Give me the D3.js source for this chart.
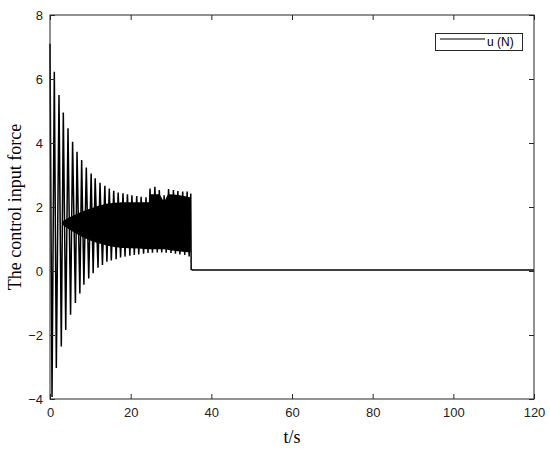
<!DOCTYPE html>
<html><head><meta charset="utf-8">
<script src="https://cdn.jsdelivr.net/npm/d3@7"></script>
<style>body{margin:0;background:#fff}svg{display:block}</style>
</head><body><svg id="c" width="550" height="449"></svg>
<script>
// Oscillation extremes
const peakT = [0,1.07,2.23,3.3,4.46,5.6,6.7,7.85,9.0,10.2,11.2,12.4,13.6,14.7,15.8,16.9,18.1,19.2,20.3,21.5,22.6,23.8,24.8,26.0,27.1,28.3,29.4,30.6,31.7,32.9,34.0,34.9];
const peakU = [7.1,6.23,5.5,4.95,4.46,4.04,3.73,3.47,3.23,3.05,2.9,2.76,2.66,2.58,2.51,2.45,2.43,2.4,2.37,2.34,2.32,2.3,2.58,2.63,2.53,2.37,2.56,2.53,2.5,2.48,2.48,2.42];
const troughT = [0.5,1.57,2.8,3.9,5.1,6.3,7.4,8.4,9.6,10.7,11.9,13.0,14.1,15.2,16.4,17.5,18.6,19.8,20.9,22.0,23.2,24.3,25.4,26.6,27.7,28.8,30.0,31.1,32.2,33.4,34.5];
const troughU = [-3.94,-3.03,-2.36,-1.84,-1.37,-1.0,-0.7,-0.43,-0.23,-0.07,0.1,0.19,0.29,0.33,0.37,0.42,0.45,0.48,0.5,0.52,0.54,0.56,0.57,0.58,0.58,0.57,0.56,0.54,0.52,0.5,0.45];
// Settled part after the switch
const tailT = [35.0, 35.4, 60, 90, 120];
const tailU = [0.05, 0.03, 0.03, 0.03, 0.03];
// Dense chattering core (solid black band)
const coreT  = [3, 6, 10, 14, 18, 22, 24.5, 24.8, 27.0, 28.3, 29.4, 34.9];
const coreHi = [1.55, 1.75, 1.95, 2.1, 2.15, 2.15, 2.15, 2.4, 2.4, 2.2, 2.4, 2.3];
const coreLo = [1.45, 1.2, 0.95, 0.8, 0.72, 0.7, 0.68, 0.68, 0.68, 0.68, 0.66, 0.58];
const xTicks = [0,20,40,60,80,100,120];
const yTicks = [-4,-2,0,2,4,6,8];
const legendLabel = "u (N)";
const xLabel = "t/s";
const yLabel = "The control input force";

const svg = d3.select("#c");
const L=50, R=534, T=15, B=399;
const x = d3.scaleLinear().domain([0,120]).range([L,R]);
const y = d3.scaleLinear().domain([-4,8]).range([B,T]);

// merge extremes
let pts = [];
peakT.forEach((t,i)=>pts.push([t,peakU[i]]));
troughT.forEach((t,i)=>pts.push([t,troughU[i]]));
pts.sort((a,b)=>a[0]-b[0]);
tailT.forEach((t,i)=>pts.push([t,tailU[i]]));

const core = coreT.map((t,i)=>({t, hi:coreHi[i], lo:coreLo[i]}));
svg.append("path").datum(core)
  .attr("d", d3.area().curve(d3.curveMonotoneX).x(d=>x(d.t)).y0(d=>y(d.lo)).y1(d=>y(d.hi)))
  .attr("fill","#000");

svg.append("path").datum(pts)
  .attr("d", d3.line().x(d=>x(d[0])).y(d=>y(d[1])))
  .attr("fill","none").attr("stroke","#000").attr("stroke-width",1.5).attr("stroke-linejoin","miter").attr("stroke-miterlimit",3);

// axes (box with inward ticks)
const axCol = "#262626";
const fnt = "'Liberation Sans', Arial, sans-serif";
svg.append("g").attr("transform",`translate(0,${B})`)
  .call(d3.axisBottom(x).tickValues(xTicks).tickSize(-5).tickPadding(9).tickSizeOuter(0))
  .call(g=>{g.select(".domain").remove(); g.selectAll("line").attr("stroke",axCol);
    g.selectAll("text").attr("font-family",fnt).attr("font-size",13).attr("fill","#222");});
svg.append("g").attr("transform",`translate(0,${T})`)
  .call(d3.axisTop(x).tickValues(xTicks).tickSize(-5).tickFormat("").tickSizeOuter(0))
  .call(g=>{g.select(".domain").remove(); g.selectAll("line").attr("stroke",axCol);});
svg.append("g").attr("transform",`translate(${L},0)`)
  .call(d3.axisLeft(y).tickValues(yTicks).tickSize(-5).tickPadding(7).tickSizeOuter(0))
  .call(g=>{g.select(".domain").remove(); g.selectAll("line").attr("stroke",axCol);
    g.selectAll("text").attr("font-family",fnt).attr("font-size",13).attr("fill","#222");});
svg.append("g").attr("transform",`translate(${R},0)`)
  .call(d3.axisRight(y).tickValues(yTicks).tickSize(-5).tickFormat("").tickSizeOuter(0))
  .call(g=>{g.select(".domain").remove(); g.selectAll("line").attr("stroke",axCol);});
svg.append("rect").attr("x",L).attr("y",T).attr("width",R-L).attr("height",B-T)
  .attr("fill","none").attr("stroke",axCol).attr("stroke-width",1);

// labels
svg.append("text").attr("x",(L+R)/2).attr("y",443).attr("text-anchor","middle")
  .attr("font-family","'Liberation Serif','Times New Roman',serif").attr("font-size",18).text(xLabel);
svg.append("text").attr("transform",`translate(21,${(T+B)/2}) rotate(-90)`).attr("text-anchor","middle")
  .attr("font-family","'Liberation Serif','Times New Roman',serif").attr("font-size",18).text(yLabel);

// legend
const lg = svg.append("g");
lg.append("rect").attr("x",435.5).attr("y",33.5).attr("width",87).attr("height",17)
  .attr("fill","#fff").attr("stroke",axCol).attr("stroke-width",1);
lg.append("line").attr("x1",440).attr("x2",485).attr("y1",39).attr("y2",39)
  .attr("stroke","#000").attr("stroke-width",1.1);
lg.append("text").attr("x",487).attr("y",46).attr("font-family",fnt).attr("font-size",12).text(legendLabel);
</script></body></html>
